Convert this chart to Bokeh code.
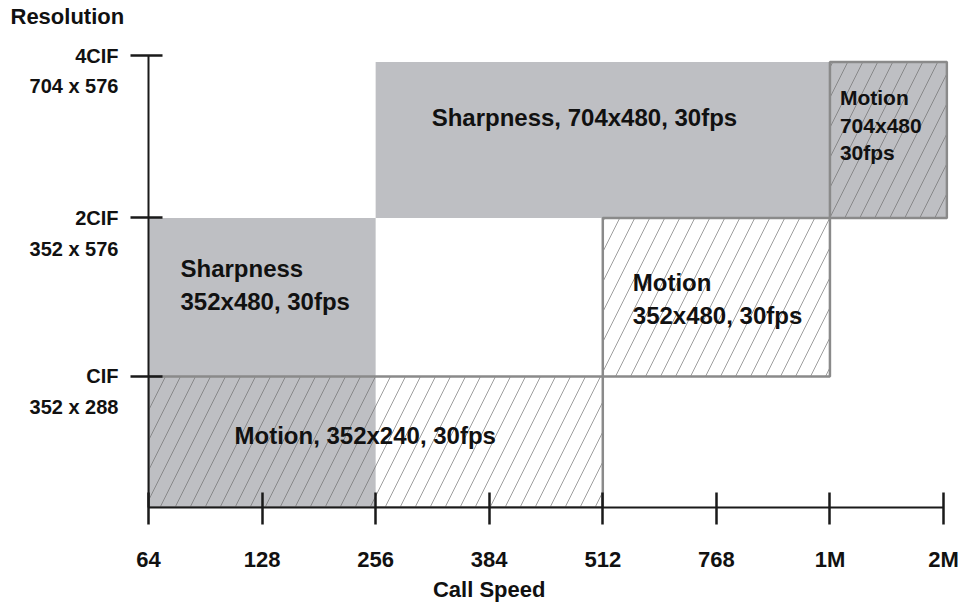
from bokeh.plotting import figure
from bokeh.models import FixedTicker, Range1d, ColumnDataSource, LinearAxis
from bokeh.core.properties import value
from bokeh.embed import file_html
from bokeh.resources import INLINE

# ---------------- data ----------------
speeds = ["64", "128", "256", "384", "512", "768", "1M", "2M"]
speed_idx = list(range(len(speeds)))
x_title = "Call Speed"
y_title = "Resolution"

res_names = ["CIF", "2CIF", "4CIF"]
res_sizes = ["352 x 288", "352 x 576", "704 x 576"]
res_levels = [1.0, 2.21, 3.45]          # axis position of each resolution tick

box_labels = ["Sharpness\n352x480, 30fps",
              "Sharpness, 704x480, 30fps",
              "Motion, 352x240, 30fps",
              "Motion\n352x480, 30fps",
              "Motion\n704x480\n30fps"]
box_x0 = [0, 2, 0, 4, 6]                 # call-speed index (64 .. 2M)
box_x1 = [2, 6, 4, 6, 7.03]
box_y0 = [0.0, 2.21, 0.0, 1.0, 2.21]
box_y1 = [2.21, 3.40, 1.0, 2.21, 3.40]
box_gray = [True, True, False, False, True]
box_hatch = [False, False, True, True, True]

# ---------------- styles ----------------
GRAY = "#bebfc3"
BORDER = "#8a8a8a"
HATCH = "#6a6a6a"
INK = "#1a1a1a"
SANS = "Liberation Sans"

# text layout: pixel offsets from box left / box top, font size
txt_dx = [32, 56, 86, 30, 10]
txt_dy = [67, 55, 59, 81, 63]
txt_fs = ["24px", "24px", "24px", "24px", "21px"]

p = figure(width=963, height=607,
           x_range=Range1d(0, 7.044), y_range=Range1d(0, 3.45),
           output_backend="svg", toolbar_location=None,
           min_border_left=148, min_border_right=15,
           min_border_top=55, min_border_bottom=100)
p.outline_line_color = None
p.grid.visible = False
p.background_fill_color = "white"
p.border_fill_color = "white"

# title (y-axis name); the empty second line lifts it to the top-left corner
p.title.text = y_title + "\n"
p.title.align = "left"
p.title.vertical_align = "top"
p.title.offset = -138
p.title.standoff = 0
p.title.text_line_height = 1.0
p.title.text_font = SANS
p.title.text_font_style = "bold"
p.title.text_font_size = "22px"
p.title.text_color = "#111111"

# gray (sharpness) areas first
for i in range(len(box_labels)):
    if box_gray[i] and not box_hatch[i]:
        p.quad(left=[box_x0[i]], right=[box_x1[i]], bottom=[box_y0[i]], top=[box_y1[i]],
               fill_color=GRAY, line_color=None)

# hatched (motion) areas on top
for i in range(len(box_labels)):
    if box_hatch[i]:
        p.quad(left=[box_x0[i]], right=[box_x1[i]], bottom=[box_y0[i]], top=[box_y1[i]],
               fill_color=GRAY if box_gray[i] else None,
               hatch_pattern="/", hatch_color=HATCH, hatch_alpha=0.65,
               hatch_scale=30, hatch_weight=1,
               line_color=BORDER, line_width=2.5)

# box texts
for i in range(len(box_labels)):
    src = ColumnDataSource(dict(x=[box_x0[i]], y=[box_y1[i]], t=[box_labels[i]]))
    p.text(x="x", y="y", text="t", source=src,
           x_offset=txt_dx[i], y_offset=txt_dy[i],
           text_font=value(SANS), text_font_style="bold",
           text_font_size=txt_fs[i], text_color="#111111",
           text_align="left", text_baseline="middle", text_line_height=1.2)

# x axis
xa = p.xaxis[0]
xa.ticker = FixedTicker(ticks=speed_idx)
xa.major_label_overrides = {i: s for i, s in zip(speed_idx, speeds)}
xa.bounds = (0, 7)
xa.minor_tick_line_color = None
xa.major_tick_in = 15
xa.major_tick_out = 17
xa.major_tick_line_width = 2.5
xa.major_tick_line_color = INK
xa.axis_line_width = 2
xa.axis_line_color = INK
xa.major_label_standoff = 22
xa.major_label_text_font = SANS
xa.major_label_text_font_style = "bold"
xa.major_label_text_font_size = "22px"
xa.major_label_text_color = "#111111"

# x title, centred under the "384" tick as in the original
title_pos = speeds.index("384")
xt = LinearAxis(ticker=FixedTicker(ticks=[title_pos]),
                major_label_overrides={title_pos: x_title},
                axis_line_color=None, major_tick_line_color=None,
                minor_tick_line_color=None, major_tick_in=0, major_tick_out=0,
                major_label_standoff=2,
                major_label_text_font=SANS, major_label_text_font_style="bold",
                major_label_text_font_size="22px", major_label_text_color="#111111")
p.add_layout(xt, "below")

# y axis
ya = p.yaxis[0]
ya.ticker = FixedTicker(ticks=res_levels)
ya.major_label_overrides = {lvl: "\n" + nm + "\n" + sz
                            for lvl, nm, sz in zip(res_levels, res_names, res_sizes)}
ya.minor_tick_line_color = None
ya.major_tick_in = 14
ya.major_tick_out = 18
ya.major_tick_line_width = 2.5
ya.major_tick_line_color = INK
ya.axis_line_width = 2
ya.axis_line_color = INK
ya.major_label_standoff = 12
ya.major_label_text_font = SANS
ya.major_label_text_font_style = "bold"
ya.major_label_text_font_size = "20px"
ya.major_label_text_line_height = 1.4
ya.major_label_text_color = "#111111"
ya.major_label_text_align = "right"

open("out.html", "w").write(file_html(p, INLINE))
